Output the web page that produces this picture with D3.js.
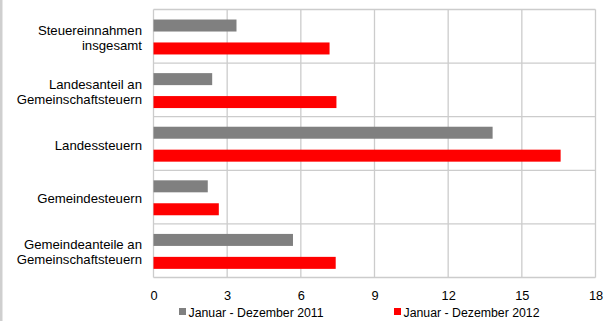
<!DOCTYPE html>
<html><head><meta charset="utf-8">
<script src="https://cdn.jsdelivr.net/npm/d3@7"></script>
<style>
html,body{margin:0;padding:0;background:#fff;}
svg{display:block;font-family:"Liberation Sans",Arial,sans-serif;}
</style></head>
<body>
<svg id="c" width="605" height="321"></svg>
<script>
const categories = [
  ["Steuereinnahmen", "insgesamt"],
  ["Landesanteil an", "Gemeinschaftsteuern"],
  ["Landessteuern"],
  ["Gemeindesteuern"],
  ["Gemeindeanteile an", "Gemeinschaftsteuern"]
];
const series2011 = [3.38, 2.39, 13.81, 2.21, 5.68];
const series2012 = [7.17, 7.45, 16.58, 2.66, 7.42];
const seriesNames = ["Januar - Dezember 2011", "Januar - Dezember 2012"];
const seriesColors = ["#808080", "#ff0000"];
const xTicks = [0, 3, 6, 9, 12, 15, 18];

(function () {
const svg = d3.select("#c");
const pL = 153.5, pR = 595.5, pT = 9.5, pB = 277.5;

svg.append("rect").attr("x", 0).attr("y", 0).attr("width", 2.5).attr("height", 321).attr("fill", "#cfcfcf");

const x = d3.scaleLinear().domain([0, 18]).range([pL, pR]);
const y = d3.scaleBand().domain(d3.range(categories.length)).range([pT, pB]);

const gridColor = "#cccccc";
svg.append("g").selectAll("line").data(xTicks).join("line")
  .attr("x1", d => x(d)).attr("x2", d => x(d))
  .attr("y1", pT).attr("y2", pB)
  .attr("stroke", gridColor).attr("stroke-width", 1.3);
svg.append("g").selectAll("line").data(d3.range(categories.length + 1)).join("line")
  .attr("x1", pL).attr("x2", pR)
  .attr("y1", d => d < categories.length ? y(d) : pB)
  .attr("y2", d => d < categories.length ? y(d) : pB)
  .attr("stroke", gridColor).attr("stroke-width", 1.3);

const bw = y.bandwidth();
const barH = 12;
const offs = [bw * 0.187, bw * 0.615];
[series2011, series2012].forEach((s, si) => {
  svg.append("g").selectAll("rect").data(s).join("rect")
    .attr("x", x(0))
    .attr("y", (d, i) => y(i) + offs[si])
    .attr("width", d => x(d) - x(0))
    .attr("height", barH)
    .attr("fill", seriesColors[si]);
});

const lab = svg.append("g").attr("font-size", "13.2px").attr("fill", "#000");
categories.forEach((lines, i) => {
  const cy = y(i) + bw / 2 + 1.5;
  const lh = 15;
  lines.forEach((t, j) => {
    lab.append("text")
      .attr("x", 142).attr("text-anchor", "end")
      .attr("y", cy + (j - (lines.length - 1) / 2) * lh)
      .attr("dy", "0.35em")
      .text(t);
  });
});

const ax = svg.append("g").attr("transform", `translate(0,${pB})`)
  .call(d3.axisBottom(x).tickValues(xTicks).tickSize(0).tickPadding(0).tickFormat(d3.format("d")));
ax.select(".domain").remove();
ax.selectAll("text").attr("font-size", "12.8px").attr("font-family", "Liberation Sans, Arial, sans-serif")
  .attr("fill", "#000").attr("dy", null).attr("y", 22.5);

const legX = [179, 394];
const leg = svg.append("g");
seriesNames.forEach((n, i) => {
  leg.append("rect").attr("x", legX[i]).attr("y", 308).attr("width", 7).attr("height", 7).attr("fill", seriesColors[i]);
  leg.append("text").attr("x", legX[i] + 9.5).attr("y", 316.5).attr("font-size", "12.3px").attr("fill", "#000").text(n);
});
})();
</script>
</body></html>
